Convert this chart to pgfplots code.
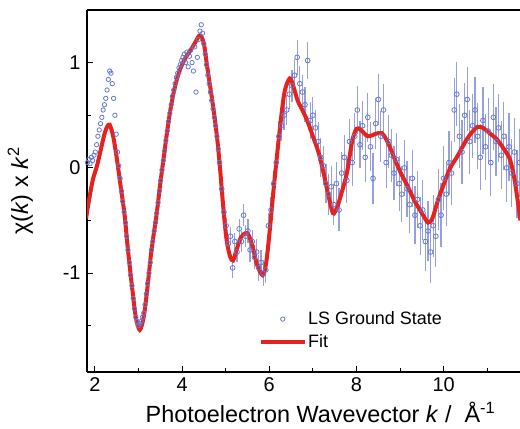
\documentclass[border=0pt]{standalone}
\usepackage{pgfplots}
\pgfplotsset{compat=1.18}
\usepackage{pgfplotstable}
\usepackage{fontspec}
\setmainfont{Liberation Sans}
\definecolor{ptblue}{RGB}{100,120,210}
\definecolor{errblue}{RGB}{150,160,220}
\definecolor{fitred}{RGB}{228,34,30}

\pgfplotstableread{
k y
1.83 0.05
1.86 0.08
1.89 0.04
1.92 0.10
1.95 0.07
1.98 0.12
2.01 0.15
2.04 0.22
2.07 0.30
2.10 0.36
2.13 0.42
2.16 0.48
2.19 0.55
2.22 0.60
2.25 0.66
2.28 0.74
2.31 0.84
2.34 0.92
2.37 0.90
2.40 0.80
2.43 0.66
2.46 0.50
2.49 0.32
2.52 0.15
2.55 0.02
2.58 -0.10
2.61 -0.22
2.64 -0.32
2.67 -0.42
2.70 -0.52
2.73 -0.65
2.76 -0.78
2.79 -0.90
2.82 -1.02
2.85 -1.12
2.88 -1.24
2.91 -1.34
2.94 -1.42
2.97 -1.46
3.00 -1.50
3.03 -1.48
3.06 -1.46
3.09 -1.42
3.12 -1.38
3.15 -1.30
3.18 -1.20
3.21 -1.10
3.24 -1.00
3.27 -0.90
3.30 -0.78
3.33 -0.70
3.36 -0.60
3.39 -0.52
3.42 -0.43
3.45 -0.33
3.48 -0.22
3.51 -0.12
3.54 -0.02
3.57 0.07
3.60 0.16
3.63 0.26
3.66 0.35
3.69 0.44
3.72 0.52
3.75 0.60
3.78 0.68
3.81 0.74
3.84 0.80
3.87 0.86
3.90 0.90
3.93 0.95
3.96 0.98
3.99 1.02
4.02 1.05
4.05 1.08
4.08 1.00
4.11 1.10
4.14 0.96
4.17 1.06
4.20 1.12
4.23 1.00
4.26 0.92
4.29 1.15
4.32 0.72
4.35 1.05
4.38 1.22
4.41 1.30
4.44 1.36
4.47 1.28
4.50 1.18
4.53 1.08
4.56 0.98
4.59 0.88
4.62 0.80
4.65 0.72
4.68 0.64
4.71 0.56
4.74 0.48
4.77 0.40
4.80 0.30
4.83 0.18
}\dataA

\pgfplotstableread{
k y e
4.86 0.05 0.03
4.91 -0.20 0.03
4.96 -0.42 0.04
5.01 -0.55 0.05
5.06 -0.72 0.05
5.11 -0.65 0.06
5.16 -0.95 0.07
5.21 -0.70 0.06
5.26 -0.80 0.07
5.31 -0.58 0.07
5.36 -0.70 0.08
5.41 -0.45 0.08
5.46 -0.65 0.08
5.51 -0.60 0.09
5.56 -0.78 0.09
5.61 -0.70 0.09
5.66 -0.85 0.09
5.71 -0.80 0.10
5.76 -0.95 0.10
5.81 -0.90 0.10
5.86 -1.00 0.10
5.92 -0.97 0.10
5.98 -0.55 0.10
6.04 -0.40 0.10
6.10 -0.15 0.10
6.16 0.05 0.10
6.22 0.30 0.12
6.28 0.40 0.12
6.34 0.50 0.12
6.40 0.55 0.12
6.46 0.70 0.12
6.52 0.78 0.13
6.58 0.88 0.13
6.64 1.05 0.14
6.70 0.80 0.14
6.76 0.72 0.14
6.82 0.60 0.14
6.88 1.02 0.15
6.94 0.45 0.15
7.00 0.50 0.15
7.06 0.38 0.15
7.12 0.25 0.16
7.18 0.10 0.16
7.24 0.02 0.16
7.30 -0.15 0.16
7.36 -0.25 0.17
7.42 -0.18 0.17
7.48 -0.35 0.17
7.54 -0.15 0.18
7.60 -0.40 0.18
7.66 -0.05 0.18
7.72 0.10 0.19
7.78 -0.12 0.19
7.84 0.25 0.19
7.90 0.05 0.20
7.96 0.30 0.20
8.02 0.55 0.20
8.08 0.22 0.20
8.14 0.40 0.21
8.20 0.10 0.21
8.26 0.48 0.21
8.32 0.20 0.21
8.38 -0.10 0.22
8.44 0.42 0.22
8.50 0.65 0.22
8.56 0.30 0.22
8.62 0.55 0.22
8.68 0.05 0.22
8.74 0.25 0.23
8.80 0.12 0.23
8.86 -0.05 0.23
8.92 0.08 0.23
8.98 -0.15 0.24
9.04 -0.25 0.24
9.10 0.00 0.24
9.16 -0.20 0.24
9.22 -0.35 0.25
9.28 -0.10 0.25
9.34 -0.45 0.25
9.40 -0.30 0.25
9.46 -0.55 0.25
9.52 -0.40 0.26
9.58 -0.70 0.26
9.64 -0.60 0.26
9.70 -0.80 0.27
9.76 -0.55 0.27
9.82 -0.65 0.27
9.88 -0.30 0.27
9.94 -0.45 0.28
10.00 -0.10 0.28
10.06 -0.25 0.28
10.12 0.05 0.28
10.18 -0.05 0.28
10.24 0.55 0.28
10.30 0.70 0.28
10.36 0.30 0.28
10.42 0.15 0.28
10.48 0.50 0.28
10.54 0.65 0.28
10.60 0.25 0.28
10.66 0.40 0.28
10.72 0.55 0.29
10.78 0.30 0.29
10.84 0.10 0.29
10.90 0.45 0.29
10.96 0.20 0.29
11.02 0.35 0.29
11.08 0.05 0.29
11.14 0.48 0.29
11.20 0.25 0.30
11.26 0.38 0.30
11.32 0.12 0.30
11.38 0.30 0.30
11.44 0.00 0.30
11.50 0.20 0.30
11.56 -0.05 0.30
11.62 0.15 0.30
11.68 -0.15 0.30
11.74 0.05 0.30
}\dataB

\pgfplotstableread{
k y
1.80 -0.48
1.84 -0.37
1.95 -0.12
2.05 0.02
2.14 0.18
2.22 0.32
2.28 0.39
2.34 0.41
2.42 0.30
2.50 0.10
2.60 -0.20
2.68 -0.44
2.76 -0.78
2.85 -1.12
2.94 -1.42
3.03 -1.54
3.12 -1.42
3.20 -1.16
3.30 -0.78
3.42 -0.43
3.50 -0.15
3.58 0.10
3.65 0.32
3.72 0.52
3.80 0.70
3.88 0.84
3.95 0.93
4.02 1.00
4.10 1.06
4.20 1.12
4.30 1.19
4.41 1.26
4.50 1.18
4.58 0.95
4.70 0.62
4.80 0.30
4.87 0.00
4.94 -0.35
5.02 -0.68
5.10 -0.84
5.17 -0.88
5.25 -0.78
5.35 -0.66
5.49 -0.62
5.60 -0.72
5.72 -0.92
5.85 -1.02
5.93 -0.90
6.01 -0.60
6.10 -0.20
6.24 0.36
6.35 0.72
6.47 0.85
6.55 0.78
6.65 0.64
6.77 0.54
6.88 0.44
7.00 0.30
7.12 0.16
7.23 -0.02
7.35 -0.25
7.46 -0.43
7.55 -0.38
7.65 -0.25
7.78 -0.05
7.90 0.25
8.00 0.37
8.10 0.36
8.26 0.30
8.42 0.32
8.58 0.33
8.72 0.24
8.88 0.08
9.03 -0.06
9.18 -0.18
9.34 -0.32
9.50 -0.43
9.64 -0.52
9.74 -0.48
9.86 -0.32
9.98 -0.18
10.15 0.00
10.30 0.10
10.50 0.25
10.65 0.34
10.78 0.39
10.90 0.38
11.05 0.33
11.22 0.27
11.38 0.18
11.52 0.08
11.62 -0.10
11.70 -0.32
11.76 -0.50
}\fit

\begin{document}
\begin{tikzpicture}
\begin{axis}[
  name=ax,
  scale only axis,
  width=433bp, height=362bp,
  xmin=1.82, xmax=11.75,
  ymin=-1.94, ymax=1.50,
  axis x line*=box, axis y line*=left,
  axis line style={-, line width=1.2bp, black},
  xtick={2,4,6,8,10}, xticklabels={2,4,6,8,10},
  minor xtick={3,5,7,9,11},
  ytick={-1,0,1}, yticklabels={-1,0,1},
  minor ytick={-1.5,-0.5,0.5},
  xtick pos=bottom, ytick pos=left,
  tick align=inside,
  major tick length=6bp, minor tick length=4bp,
  every tick/.style={black, line width=1.1bp},
  tick label style={font=\fontsize{20}{23}\selectfont},
  xticklabel style={yshift=-2bp},
  yticklabel style={xshift=-3bp},
  xlabel={Photoelectron Wavevector \textit{k} /\ \ Å\textsuperscript{-1}},
  ylabel={χ(\textit{k}) x \textit{k}\textsuperscript{2}},
  label style={font=\fontsize{23.5}{27}\selectfont},
  xlabel style={yshift=-4bp, xshift=17bp},
  ylabel style={yshift=23bp},
  clip=true,
  legend style={at={(axis description cs:0.395,0.175)}, anchor=north west,
    draw=none, fill=none, font=\fontsize{18}{21}\selectfont,
    row sep=4bp, inner sep=1bp},
  legend cell align=left,
  legend image code/.code={\draw[mark repeat=2,mark phase=2,#1] plot coordinates {(0bp,0bp) (21.5bp,0bp) (43bp,0bp)};},
]
\addplot[only marks, mark=o, mark size=2.2pt, ptblue, mark options={line width=0.8bp}]
  table[x=k, y=y] {\dataA};
\addlegendentry{LS Ground State}
\addplot[forget plot, only marks, mark=o, mark size=2.4pt, ptblue, mark options={line width=0.8bp},
  error bars/.cd, y dir=both, y explicit,
  error bar style={errblue, line width=1.2bp},
  error mark options={errblue, mark size=2.5bp, line width=1.2bp}]
  table[x=k, y=y, y error=e] {\dataB};
\addplot[fitred, line width=4bp, smooth, tension=0.5]
  table[x=k, y=y] {\fit};
\addlegendentry{Fit}
\end{axis}
\pgfresetboundingbox
\path[use as bounding box] ([xshift=-87bp,yshift=-57bp]ax.south west) rectangle ([yshift=10bp]ax.north east);
\end{tikzpicture}
\end{document}
